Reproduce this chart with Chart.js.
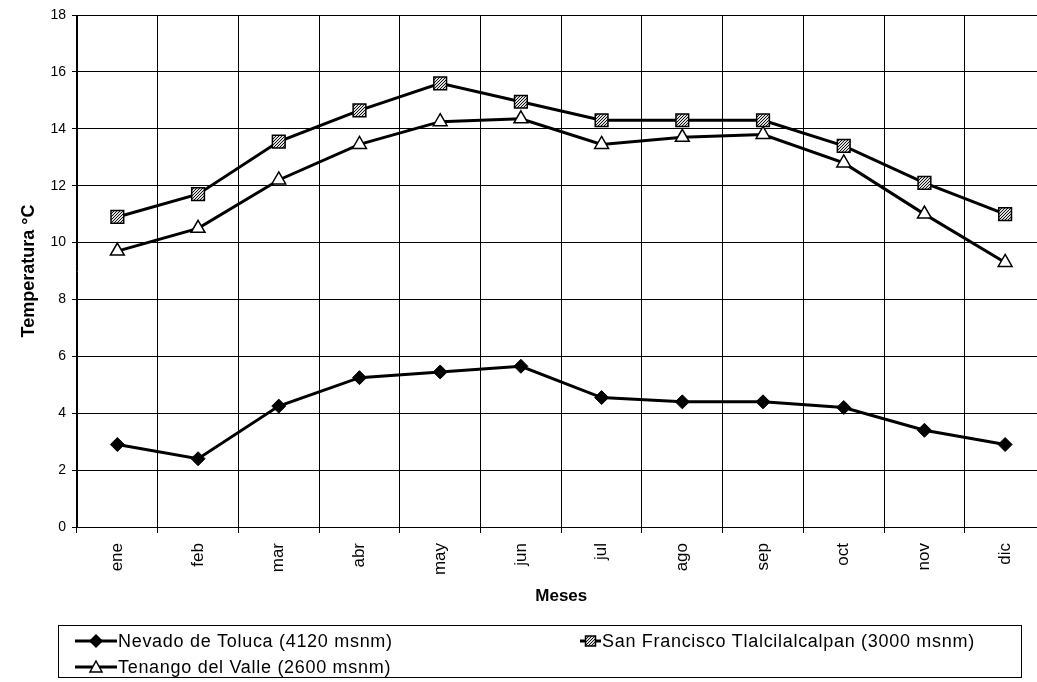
<!DOCTYPE html>
<html>
<head>
<meta charset="utf-8">
<script src="https://cdn.jsdelivr.net/npm/chart.js@4.4.1/dist/chart.umd.min.js"></script>
<style>
  html, body { margin: 0; padding: 0; background: #fff; overflow: hidden; }
  canvas { display: block; }
</style>
</head>
<body>
<canvas id="tempChart" width="1056" height="682"></canvas>
<script>
// meses y temperaturas medias
const meses = ['ene', 'feb', 'mar', 'abr', 'may', 'jun', 'jul', 'ago', 'sep', 'oct', 'nov', 'dic'];
const nevado = [2.9, 2.4, 4.25, 5.25, 5.45, 5.65, 4.55, 4.4, 4.4, 4.2, 3.4, 2.9];
const sanFrancisco = [10.9, 11.7, 13.55, 14.65, 15.6, 14.95, 14.3, 14.3, 14.3, 13.4, 12.1, 11.0];
const tenango = [9.7, 10.5, 12.2, 13.45, 14.25, 14.35, 13.45, 13.7, 13.8, 12.8, 11.0, 9.3];
const yTicks = [0, 2, 4, 6, 8, 10, 12, 14, 16, 18];

const FONT = 'Liberation Sans, Arial, sans-serif';

// relleno punteado para el cuadrado
const pc = document.createElement('canvas');
pc.width = 3; pc.height = 3;
const pctx = pc.getContext('2d');
pctx.fillStyle = '#ddd';
pctx.fillRect(0, 0, 3, 3);
pctx.fillStyle = '#111';
pctx.fillRect(0, 0, 1, 1);
pctx.fillRect(2, 1, 1, 1);
pctx.fillRect(1, 2, 1, 1);
const dots = pctx.createPattern(pc, 'repeat');

function drawMarker(ctx, style, x, y, fill) {
  ctx.save();
  ctx.lineWidth = 1.5;
  ctx.strokeStyle = '#000';
  ctx.fillStyle = fill;
  ctx.beginPath();
  if (style === 'rectRot') {
    ctx.moveTo(x, y - 6); ctx.lineTo(x + 6, y); ctx.lineTo(x, y + 6); ctx.lineTo(x - 6, y);
  } else if (style === 'rect') {
    ctx.rect(x - 5, y - 5, 10, 10);
  } else {
    ctx.moveTo(x, y - 6); ctx.lineTo(x + 6, y + 5); ctx.lineTo(x - 6, y + 5);
  }
  ctx.closePath();
  ctx.fill();
  ctx.stroke();
  ctx.restore();
}

const legendBox = {
  id: 'legendBox',
  afterDraw(chart) {
    const ctx = chart.ctx;
    ctx.save();
    ctx.strokeStyle = '#000';
    ctx.lineWidth = 1;
    ctx.strokeRect(58.5, 625.5, 963, 52);
    const spots = [[75, 641], [580, 641], [75, 667]];
    ctx.font = '18px ' + FONT;
    ctx.letterSpacing = '0.7px';
    ctx.textBaseline = 'middle';
    chart.data.datasets.forEach((ds, i) => {
      const [x, y] = spots[i];
      const w = i === 1 ? 21 : 42;
      ctx.strokeStyle = '#000';
      ctx.lineWidth = 3;
      ctx.beginPath();
      ctx.moveTo(x, y);
      ctx.lineTo(x + w, y);
      ctx.stroke();
      drawMarker(ctx, ds.pointStyle, x + w / 2, y, ds.pointBackgroundColor);
      ctx.fillStyle = '#000';
      ctx.fillText(ds.label, x + w + 1, y + 1);
    });
    ctx.restore();
  }
};

const ctx = document.getElementById('tempChart').getContext('2d');
new Chart(ctx, {
  type: 'line',
  data: {
    labels: meses,
    datasets: [
      {
        label: 'Nevado de Toluca (4120 msnm)',
        data: nevado,
        borderColor: '#000',
        borderWidth: 3,
        pointStyle: 'rectRot',
        pointRadius: 7,
        pointBackgroundColor: '#000',
        pointBorderColor: '#000',
        pointBorderWidth: 1
      },
      {
        label: 'San Francisco Tlalcilalcalpan (3000 msnm)',
        data: sanFrancisco,
        borderColor: '#000',
        borderWidth: 3,
        pointStyle: 'rect',
        pointRadius: 9,
        pointBackgroundColor: dots,
        pointBorderColor: '#000',
        pointBorderWidth: 1.5
      },
      {
        label: 'Tenango del Valle (2600 msnm)',
        data: tenango,
        borderColor: '#000',
        borderWidth: 3,
        pointStyle: 'triangle',
        pointRadius: 8,
        pointBackgroundColor: '#fff',
        pointBorderColor: '#000',
        pointBorderWidth: 1.5
      }
    ]
  },
  options: {
    responsive: false,
    animation: false,
    layout: { padding: { top: 15, right: 5, bottom: 75, left: 0 } },
    plugins: {
      legend: { display: false },
      tooltip: { enabled: false }
    },
    scales: {
      x: {
        offset: true,
        grid: { color: '#000', lineWidth: 1, tickLength: 6, offset: true },
        border: { color: '#000', width: 1 },
        ticks: {
          color: '#000',
          font: { family: FONT, size: 17 },
          minRotation: 90,
          maxRotation: 90,
          padding: 10
        },
        title: {
          display: true,
          text: 'Meses',
          color: '#000',
          font: { family: FONT, size: 17, weight: 'bold' },
          padding: { top: 8, bottom: 0 }
        },
        afterFit(scale) { scale.height = 80; }
      },
      y: {
        min: 0,
        max: 18,
        afterBuildTicks(scale) { scale.ticks = yTicks.map(v => ({ value: v })); },
        grid: { color: '#000', lineWidth: 1, tickLength: 5 },
        border: { color: '#000', width: 1 },
        ticks: {
          color: '#000',
          font: { family: FONT, size: 14 },
          padding: 6
        },
        title: {
          display: true,
          text: 'Temperatura °C',
          color: '#000',
          font: { family: FONT, size: 18, weight: 'bold' },
          padding: { top: 18, bottom: 8 }
        },
        afterFit(scale) { scale.width = 77; }
      }
    }
  },
  plugins: [legendBox]
});
</script>
</body>
</html>
